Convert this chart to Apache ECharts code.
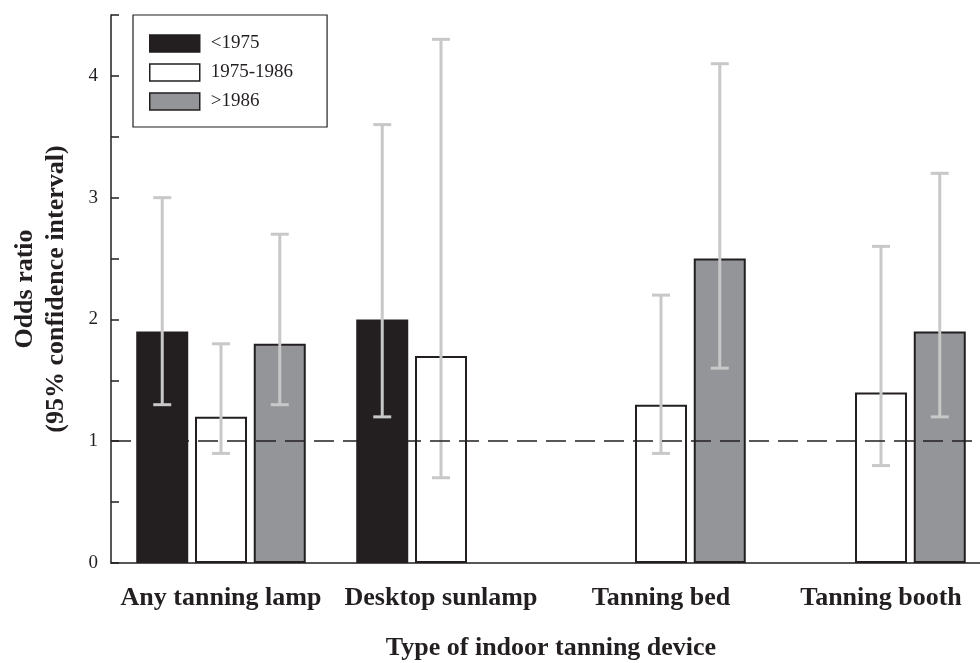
<!DOCTYPE html>
<html>
<head>
<meta charset="utf-8">
<script src="https://cdn.jsdelivr.net/npm/echarts@6/dist/echarts.min.js"></script>
<style>html,body{margin:0;padding:0;background:#fff}#c{width:980px;height:663px}</style>
</head>
<body>
<div id="c"></div>
<script>
const categories = ['Any tanning lamp', 'Desktop sunlamp', 'Tanning bed', 'Tanning booth'];
const seriesNames = ['<1975', '1975-1986', '>1986'];
const orBefore1975 = [1.9, 2.0, null, null];
const lowBefore1975 = [1.3, 1.2, null, null];
const highBefore1975 = [3.0, 3.6, null, null];
const or1975to1986 = [1.2, 1.7, 1.3, 1.4];
const low1975to1986 = [0.9, 0.7, 0.9, 0.8];
const high1975to1986 = [1.8, 4.3, 2.2, 2.6];
const orAfter1986 = [1.8, null, 2.5, 1.9];
const lowAfter1986 = [1.3, null, 1.6, 1.2];
const highAfter1986 = [2.7, null, 4.1, 3.2];
const yTicks = [0, 1, 2, 3, 4];
const referenceLine = 1;

const values = [orBefore1975, or1975to1986, orAfter1986];
const lows = [lowBefore1975, low1975to1986, lowAfter1986];
const highs = [highBefore1975, high1975to1986, highAfter1986];
const fills = ['#231f20', '#ffffff', '#939598'];
const ink = '#231f20';
const serif = '"Liberation Serif", "Times New Roman", serif';
const BAR_W = 52, GAP = 0.13;

const chart = echarts.init(document.getElementById('c'));

const barSeries = values.map((v, i) => ({
  name: seriesNames[i],
  type: 'bar',
  data: v,
  barWidth: BAR_W,
  barGap: (GAP * 100) + '%',
  itemStyle: { color: fills[i], borderColor: ink, borderWidth: 2 },
  z: 2,
  markLine: i === 0 ? {
    silent: true, symbol: 'none', label: { show: false },
    lineStyle: { color: ink, type: [20, 9], width: 1.5 },
    data: [{ yAxis: referenceLine }],
    z: 5
  } : undefined
}));

const errSeries = values.map((v, i) => ({
  type: 'custom',
  data: categories.map((c, k) => lows[i][k] == null ? null : [k, lows[i][k], highs[i][k]]).filter(d => d),
  z: 4,
  silent: true,
  renderItem: function (params, api) {
    const k = api.value(0);
    const lo = api.coord([k, api.value(1)]);
    const hi = api.coord([k, api.value(2)]);
    const off = (i - 1) * BAR_W * (1 + GAP);
    const x = lo[0] + off;
    const cap = 9;
    const style = { stroke: '#c8c8c8', lineWidth: 3 };
    return {
      type: 'group',
      children: [
        { type: 'line', shape: { x1: x, y1: lo[1], x2: x, y2: hi[1] }, style },
        { type: 'line', shape: { x1: x - cap, y1: lo[1], x2: x + cap, y2: lo[1] }, style },
        { type: 'line', shape: { x1: x - cap, y1: hi[1], x2: x + cap, y2: hi[1] }, style }
      ]
    };
  }
}));

chart.setOption({
  animation: false,
  backgroundColor: '#ffffff',
  textStyle: { fontFamily: serif },
  grid: { left: 111, top: 15, bottom: 100, width: 880, containLabel: false, outerBoundsMode: 'none' },
  legend: {
    data: seriesNames,
    orient: 'vertical',
    icon: 'rect',
    left: 133, top: 15,
    padding: [19, 34, 16, 16],
    itemWidth: 50, itemHeight: 17, itemGap: 10,
    borderColor: ink, borderWidth: 1.2,
    textStyle: { fontFamily: serif, fontSize: 19, lineHeight: 17, color: ink, padding: [0, 0, 0, 6] },
    itemStyle: { borderColor: ink, borderWidth: 1.5 }
  },
  xAxis: {
    type: 'category',
    data: categories,
    axisLine: { lineStyle: { color: ink, width: 1.5 } },
    axisTick: { alignWithLabel: true, length: 7, lineStyle: { color: ink, width: 1.5 } },
    axisLabel: { interval: 0, fontFamily: serif, fontSize: 26, fontWeight: 'bold', color: ink, margin: 22 },
    name: 'Type of indoor tanning device',
    nameLocation: 'middle',
    nameGap: 72,
    nameTextStyle: { fontFamily: serif, fontSize: 26, fontWeight: 'bold', color: ink }
  },
  yAxis: [{
    type: 'value', min: 0, max: 4.5, interval: 1,
    splitLine: { show: false },
    axisLine: { show: true, lineStyle: { color: ink, width: 1.5 } },
    axisTick: { inside: true, length: 12, lineStyle: { color: ink, width: 1.5 } },
    axisLabel: {
      fontFamily: serif, fontSize: 19, color: ink, margin: 13,
      formatter: v => yTicks.indexOf(v) >= 0 ? String(v) : ''
    },
    name: 'Odds ratio\n(95% confidence interval)',
    nameLocation: 'middle',
    nameGap: 39,
    nameTextStyle: { fontFamily: serif, fontSize: 26, fontWeight: 'bold', color: ink, lineHeight: 31 }
  }, {
    type: 'value', min: 0, max: 4.5, interval: 0.5, position: 'left',
    splitLine: { show: false },
    axisLine: { show: false },
    axisTick: { show: true, inside: true, length: 8, lineStyle: { color: ink, width: 1.5 } },
    axisLabel: { show: false }
  }],
  series: barSeries.concat(errSeries)
});
</script>
</body>
</html>
